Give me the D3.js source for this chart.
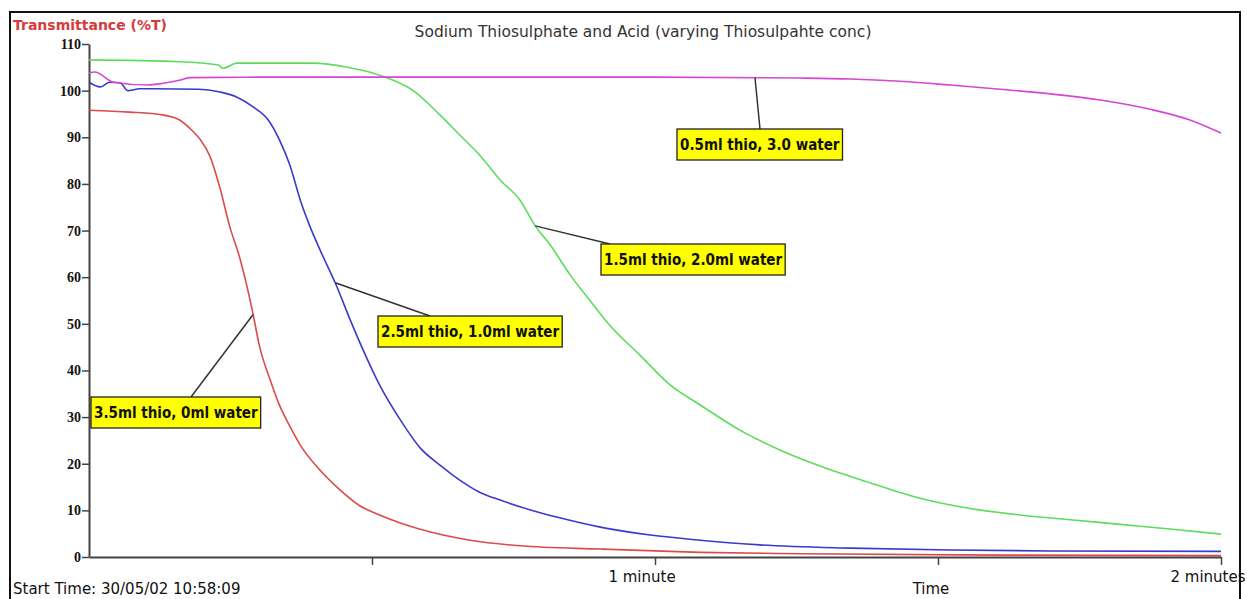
<!DOCTYPE html>
<html>
<head>
<meta charset="utf-8">
<script src="https://cdnjs.cloudflare.com/ajax/libs/d3/7.8.5/d3.min.js"></script>
<style>
  body { margin: 0; background: #fff; }
  svg { display: block; font-family: "DejaVu Sans", sans-serif; }
</style>
</head>
<body>
<div id="chart"></div>
<script>
// readings, time in seconds, transmittance in %T
var redTime = [0, 4.3, 7.8, 9.6, 10.9, 11.8, 12.8, 13.9, 14.9, 16.0, 17.3, 18.1, 19.2, 20.2, 21.3, 22.4, 24.5, 26.6, 28.7, 30.8, 33.0, 36.1, 40.4, 45.7, 54.2, 64.8, 75.4, 96.6, 120];
var redVal = [95.8, 95.4, 94.8, 93.7, 91.5, 89.5, 86, 79, 71, 64, 53, 45, 38, 32.5, 28, 24, 18.6, 14.4, 11, 9, 7.3, 5.4, 3.6, 2.4, 1.7, 1, 0.7, 0.4, 0.3];

var blueTime = [0, 1.2, 2.2, 3.3, 4.1, 5.4, 11.6, 13.9, 15.7, 17.4, 19.0, 20.2, 21.3, 22.4, 23.4, 24.5, 26.1, 27.7, 29.3, 30.8, 33.0, 35.1, 37.2, 39.3, 41.4, 43.6, 46.8, 49.9, 54.2, 59.5, 64.8, 71.1, 80.7, 91.3, 101.9, 120];
var blueVal = [101.8, 100.8, 101.8, 101.7, 100, 100.4, 100.3, 99.7, 98.6, 96.5, 93.7, 89.4, 84, 76.5, 71, 65.8, 58.8, 50.8, 43.3, 36.9, 29.4, 23.4, 19.7, 16.5, 13.9, 12.2, 10.1, 8.4, 6.4, 4.7, 3.6, 2.6, 1.9, 1.5, 1.3, 1.2];

var greenTime = [0, 9.6, 13.7, 14.2, 15.7, 23.7, 27.4, 30.8, 34.3, 37.2, 39.3, 41.4, 43.6, 45.7, 47.3, 48.9, 51.0, 53.1, 55.2, 58.4, 61.6, 64.8, 69.0, 73.3, 77.5, 82.8, 88.1, 93.4, 98.7, 104.0, 109.3, 114.6, 120];
var greenVal = [106.6, 106.2, 105.5, 104.8, 105.9, 105.9, 105, 103.3, 100.1, 94.8, 90.5, 86.2, 80.8, 76.5, 71, 66.9, 60.5, 55, 49.7, 43.3, 36.9, 32.6, 27.2, 22.9, 19.5, 15.9, 12.6, 10.4, 9.0, 8.0, 7.0, 6.0, 4.9];

var pinkTime = [0, 0.6, 2.6, 6.2, 7.9, 9.7, 10.7, 20, 40, 60, 75.4, 80.7, 86.0, 91.3, 96.6, 101.9, 107.2, 112.5, 116.7, 120];
var pinkVal = [103.8, 104, 101.8, 101.2, 101.6, 102.3, 102.8, 102.9, 102.9, 102.9, 102.7, 102.5, 102, 101.2, 100.3, 99.3, 98, 96, 93.7, 90.9];

var seriesNames = ["3.5ml thio, 0ml water", "2.5ml thio, 1.0ml water", "1.5ml thio, 2.0ml water", "0.5ml thio, 3.0 water"];
var calloutTimes = [17.4, 26.1, 47.3, 70.6];

var yTicks = [0, 10, 20, 30, 40, 50, 60, 70, 80, 90, 100, 110];
var xTicks = [30, 60, 90, 120];
var xTickLabels = ["", "1 minute", "Time", "2 minutes"];

var chartTitle = "Sodium Thiosulphate and Acid (varying Thiosulpahte conc)";
var yTitle = "Transmittance (%T)";
var startTime = "Start Time: 30/05/02 10:58:09";

var width = 1247, height = 599;

var svg = d3.select("#chart").append("svg")
    .attr("width", width)
    .attr("height", height);

// outer frame
svg.append("rect")
    .attr("x", 10).attr("y", 12)
    .attr("width", 1230).attr("height", 620)
    .attr("fill", "none")
    .attr("stroke", "#111")
    .attr("stroke-width", 2);

var x = d3.scaleLinear().domain([0, 120]).range([89, 1221]);
var y = d3.scaleLinear().domain([0, 110]).range([557, 44]);

var series = [
    {time: redTime, val: redVal, color: "#dd4a4a"},
    {time: blueTime, val: blueVal, color: "#3a3acc"},
    {time: greenTime, val: greenVal, color: "#5ddc5d"},
    {time: pinkTime, val: pinkVal, color: "#d646d6"}
];

var line = d3.line()
    .x(function(d) { return x(d[0]); })
    .y(function(d) { return y(d[1]); })
    .curve(d3.curveMonotoneX);

// y axis
var yAxis = svg.append("g")
    .attr("transform", "translate(" + x(0) + ",0)")
    .call(d3.axisLeft(y).tickValues(yTicks).tickSize(7).tickPadding(1).tickSizeOuter(0));
yAxis.select(".domain").attr("stroke", "#444").attr("stroke-width", 2);
yAxis.selectAll(".tick line").attr("stroke", "#444").attr("stroke-width", 1.5);
yAxis.selectAll(".tick text")
    .attr("fill", "#111")
    .style("font-family", "'Liberation Serif', serif")
    .style("font-size", "14px")
    .style("font-weight", "bold");

// draw the traces
svg.selectAll("path.trace")
    .data(series)
    .enter().append("path")
    .attr("class", "trace")
    .attr("fill", "none")
    .attr("stroke", function(d) { return d.color; })
    .attr("stroke-width", 1.6)
    .attr("d", function(d) { return line(d.time.map(function(t, i) { return [t, d.val[i]]; })); });

// x axis
var xAxis = svg.append("g")
    .attr("transform", "translate(0," + y(0) + ")")
    .call(d3.axisBottom(x).tickValues(xTicks).tickSize(8).tickFormat("").tickSizeOuter(0));
xAxis.select(".domain").attr("stroke", "#444").attr("stroke-width", 2);
xAxis.selectAll(".tick line").attr("stroke", "#444").attr("stroke-width", 1.5);

svg.selectAll("text.xlab")
    .data(xTicks)
    .enter().append("text")
    .attr("class", "xlab")
    .attr("x", function(d, i) { return i == 2 ? x(d) - 7 : x(d) - 13; })
    .attr("y", function(d, i) { return i == 2 ? 594 : 582; })
    .attr("text-anchor", "middle")
    .attr("fill", "#111")
    .style("font-size", "15px")
    .text(function(d, i) { return xTickLabels[i]; });

// titles
svg.append("text")
    .attr("x", 643).attr("y", 37)
    .attr("text-anchor", "middle")
    .attr("fill", "#333")
    .style("font-size", "15.5px")
    .text(chartTitle);

svg.append("text")
    .attr("x", 13).attr("y", 30)
    .attr("fill", "#d43c3c")
    .style("font-size", "14px")
    .style("font-weight", "bold")
    .text(yTitle);

svg.append("text")
    .attr("x", 13).attr("y", 594)
    .attr("fill", "#111")
    .style("font-size", "15px")
    .text(startTime);

// callouts: box top-left and where the leader meets the box
var calloutBoxes = [
    {bx: 91, by: 397, lx: 191},
    {bx: 378, by: 316, lx: 430},
    {bx: 601, by: 244, lx: 610},
    {bx: 677, by: 129, lx: 760}
];

function valueAt(s, t) {
    return d3.scaleLinear().domain(s.time).range(s.val)(t);
}

seriesNames.forEach(function(name, i) {
    var box = calloutBoxes[i];
    var ax = x(calloutTimes[i]), ay = y(valueAt(series[i], calloutTimes[i]));

    svg.append("line")
        .attr("x1", ax).attr("y1", ay)
        .attr("x2", box.lx).attr("y2", box.by)
        .attr("stroke", "#333")
        .attr("stroke-width", 1.5);

    var g = svg.append("g").attr("transform", "translate(" + box.bx + "," + box.by + ")");
    var rect = g.append("rect").attr("fill", "#ffff00").attr("stroke", "#222").attr("stroke-width", 1.3);
    var txt = g.append("text")
        .attr("x", 3).attr("y", 21)
        .attr("fill", "#111")
        .style("font-family", "'DejaVu Sans Condensed', 'DejaVu Sans', sans-serif")
        .style("font-size", "15px")
        .style("font-weight", "bold")
        .text(name);
    var w = txt.node().getComputedTextLength();
    rect.attr("width", w + 6).attr("height", 31);
});
</script>
</body>
</html>
